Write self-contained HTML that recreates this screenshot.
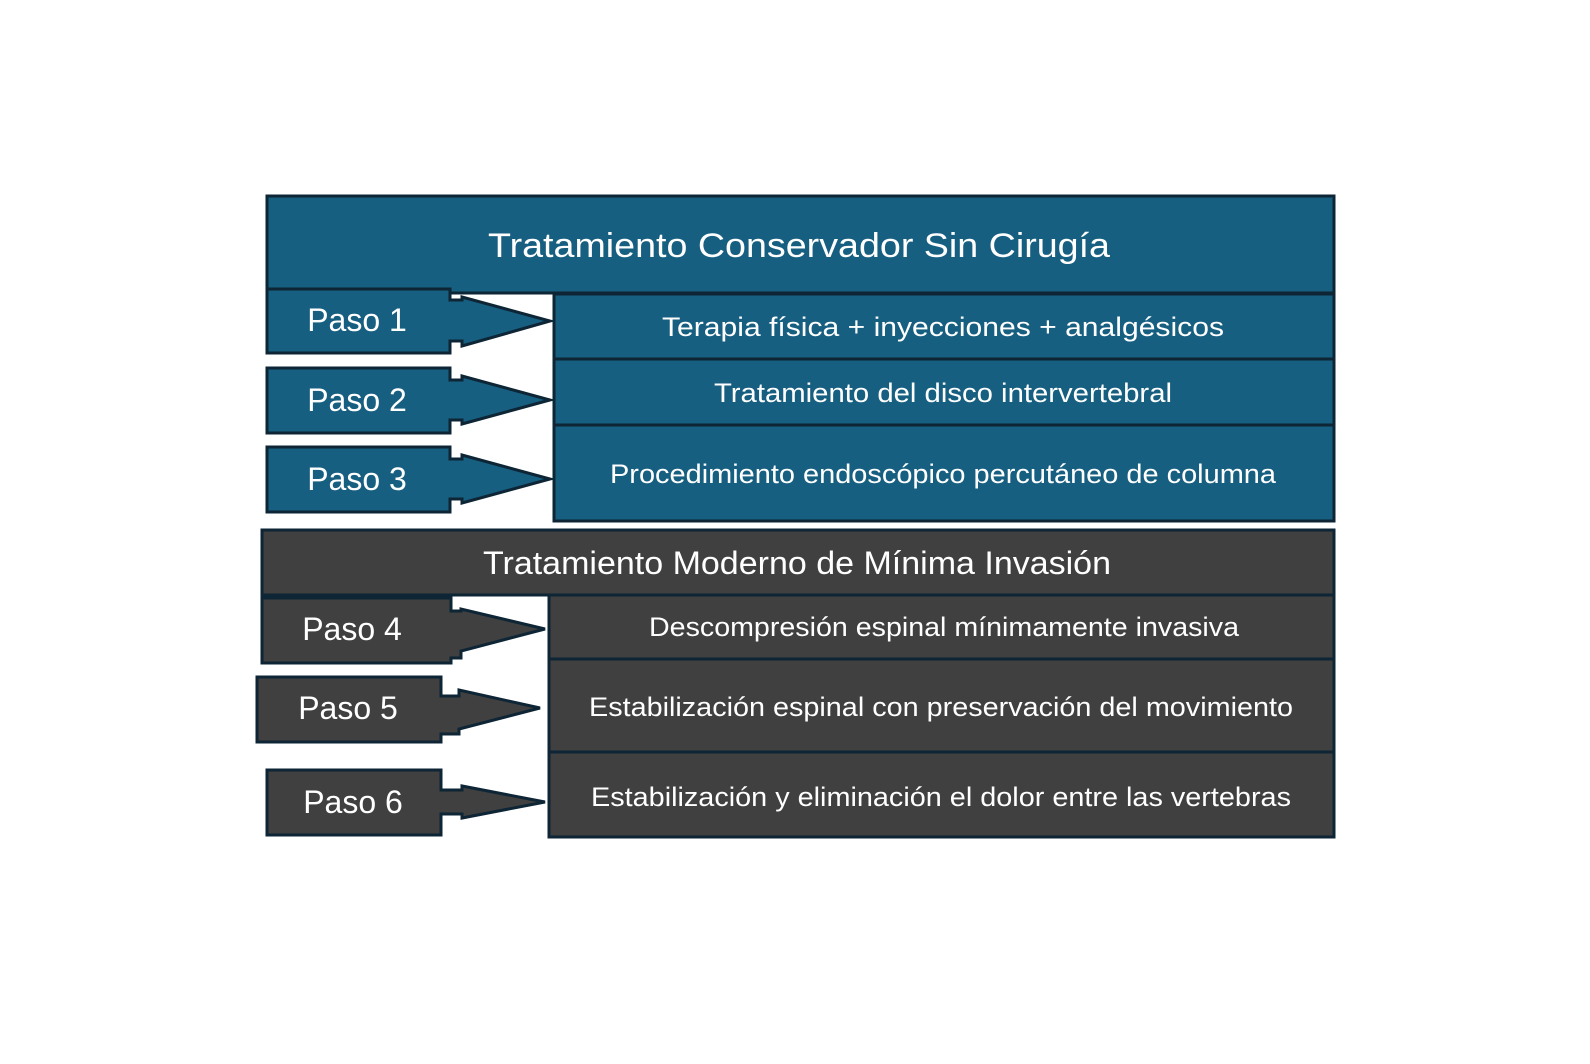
<!DOCTYPE html>
<html><head><meta charset="utf-8"><style>
html,body{margin:0;padding:0;background:#fff;}
svg{display:block;}
text{font-family:"Liberation Sans",sans-serif;fill:#fff;}
</style></head><body>
<svg width="1590" height="1064" viewBox="0 0 1590 1064" xmlns="http://www.w3.org/2000/svg">
<g stroke="#0d2535" stroke-width="3" stroke-linejoin="miter">
<rect x="267" y="196" width="1067" height="97" fill="#175f80"/>
<rect x="554" y="294" width="780" height="65" fill="#175f80"/>
<rect x="554" y="359" width="780" height="66" fill="#175f80"/>
<rect x="554" y="425" width="780" height="96" fill="#175f80"/>
<path fill="#175f80" d="M267,289 L450,289 L450,300 L462,300 L462,297 L550,321 L462,346 L462,341 L450,341 L450,353 L267,353 Z"/>
<path fill="#175f80" d="M267,368 L450,368 L450,380 L462,380 L462,376 L550,400 L462,424 L462,420 L450,420 L450,433 L267,433 Z"/>
<path fill="#175f80" d="M267,447 L450,447 L450,459 L462,459 L462,455 L550,479 L462,503 L462,499 L450,499 L450,512 L267,512 Z"/>
<rect x="262" y="530" width="1072" height="65" fill="#404040"/>
<rect x="549" y="595" width="785" height="64" fill="#404040"/>
<rect x="549" y="659" width="785" height="93" fill="#404040"/>
<rect x="549" y="752" width="785" height="85" fill="#404040"/>
<path fill="#404040" d="M262,598 L451,598 L451,611 L461,611 L461,609 L545,629 L461,651 L461,658 L451,658 L451,663 L262,663 Z"/>
<path fill="#404040" d="M257,677 L441,677 L441,696 L459,696 L459,690 L540,708 L459,729 L459,734 L441,734 L441,742 L257,742 Z"/>
<path fill="#404040" d="M267,770 L441,770 L441,790 L462,790 L462,786 L545,802 L462,818 L462,814 L441,814 L441,835 L267,835 Z"/>
</g>
<text x="799" y="257" font-size="34" text-anchor="middle" textLength="622" lengthAdjust="spacingAndGlyphs">Tratamiento Conservador Sin Cirugía</text>
<text x="943" y="336" font-size="27" text-anchor="middle" textLength="562" lengthAdjust="spacingAndGlyphs">Terapia física + inyecciones + analgésicos</text>
<text x="943" y="402" font-size="27" text-anchor="middle" textLength="458" lengthAdjust="spacingAndGlyphs">Tratamiento del disco intervertebral</text>
<text x="943" y="483" font-size="27" text-anchor="middle" textLength="666" lengthAdjust="spacingAndGlyphs">Procedimiento endoscópico percutáneo de columna</text>
<text x="797" y="574" font-size="32" text-anchor="middle" textLength="628" lengthAdjust="spacingAndGlyphs">Tratamiento Moderno de Mínima Invasión</text>
<text x="944" y="636" font-size="27" text-anchor="middle" textLength="590" lengthAdjust="spacingAndGlyphs">Descompresión espinal mínimamente invasiva</text>
<text x="941" y="716" font-size="27" text-anchor="middle" textLength="704" lengthAdjust="spacingAndGlyphs">Estabilización espinal con preservación del movimiento</text>
<text x="941" y="806" font-size="27" text-anchor="middle" textLength="700" lengthAdjust="spacingAndGlyphs">Estabilización y eliminación el dolor entre las vertebras</text>
<g font-size="32" text-anchor="middle">
<text x="357" y="331">Paso 1</text>
<text x="357" y="411">Paso 2</text>
<text x="357" y="490">Paso 3</text>
<text x="352" y="640">Paso 4</text>
<text x="348" y="719">Paso 5</text>
<text x="353" y="813">Paso 6</text>
</g>
</svg>
</body></html>
